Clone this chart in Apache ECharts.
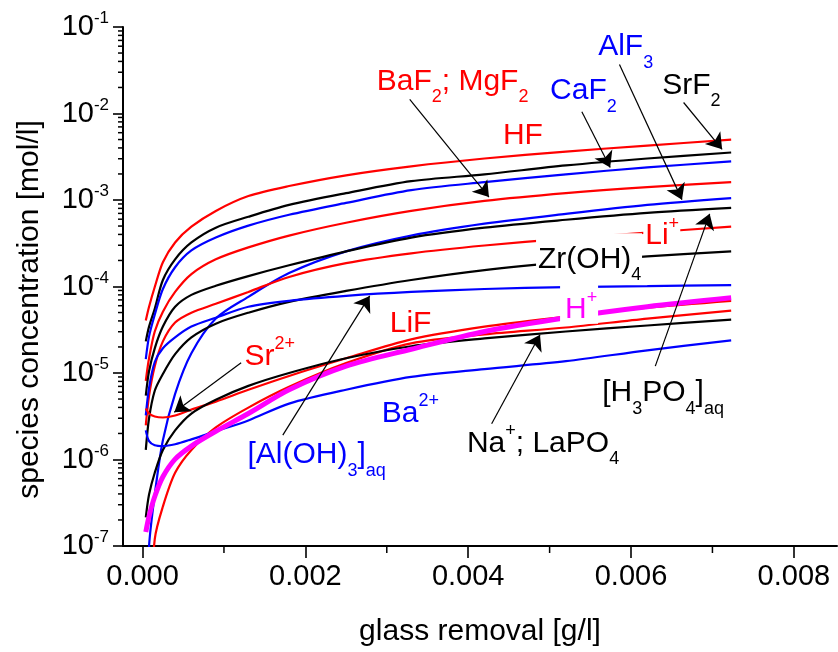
<!DOCTYPE html>
<html>
<head>
<meta charset="utf-8">
<script src="https://cdn.jsdelivr.net/npm/echarts@6.0.0/dist/echarts.min.js"></script>
<style>
html,body{margin:0;padding:0;background:#fff;}
#main{width:838px;height:652px;}
</style>
</head>
<body>
<div id="main"></div>
<script>
// glass removal [g/l] where every curve is sampled
var xs = [0.00004, 0.00008, 0.00015, 0.00025, 0.0004, 0.0006, 0.0009, 0.0013, 0.0018, 0.0025, 0.0033, 0.0042, 0.0052, 0.0062, 0.00723];

// species concentration [mol/l]
var hf      = [4.04e-5, 5.83e-5, 9.86e-5, 1.91e-4, 3.23e-4, 4.91e-4, 7.48e-4, 1.11e-3, 1.45e-3, 1.93e-3, 2.45e-3, 3.02e-3, 3.63e-3, 4.26e-3, 4.98e-3];
var srF2    = [2.32e-5, 3.44e-5, 5.53e-5, 1.19e-4, 2.06e-4, 3.23e-4, 4.79e-4, 6.40e-4, 8.77e-4, 1.20e-3, 1.65e-3, 1.98e-3, 2.51e-3, 3.02e-3, 3.54e-3];
var caF2    = [1.45e-5, 2.65e-5, 4.72e-5, 9.35e-5, 1.67e-4, 2.61e-4, 3.68e-4, 5.05e-4, 6.75e-4, 9.25e-4, 1.30e-3, 1.61e-3, 1.98e-3, 2.38e-3, 2.79e-3];
var baF2    = [8.11e-6, 1.48e-5, 3.02e-5, 5.12e-5, 8.65e-5, 1.39e-4, 2.06e-4, 2.83e-4, 3.88e-4, 5.46e-4, 7.48e-4, 9.75e-4, 1.20e-3, 1.41e-3, 1.61e-3];
var alF3    = [1.0e-8, 1.0e-7, 3.93e-7, 1.67e-6, 5.75e-6, 1.69e-5, 4.26e-5, 7.59e-5, 1.43e-4, 2.55e-4, 3.88e-4, 5.32e-4, 6.92e-4, 8.77e-4, 1.05e-3];
var h3po4   = [5.46e-6, 1.05e-5, 1.93e-5, 3.44e-5, 5.83e-5, 8.00e-5, 1.02e-4, 1.32e-4, 1.76e-4, 2.55e-4, 3.68e-4, 4.79e-4, 5.91e-4, 7.10e-4, 8.11e-4];
var liIon   = [2.48e-6, 5.46e-6, 1.20e-5, 2.32e-5, 3.83e-5, 4.98e-5, 6.31e-5, 8.65e-5, 1.29e-4, 1.86e-4, 2.42e-4, 2.98e-4, 3.58e-4, 4.20e-4, 4.91e-4];
var zrOH4   = [1.29e-6, 3.00e-6, 6.23e-6, 9.75e-6, 1.65e-5, 2.58e-5, 3.72e-5, 4.98e-5, 6.65e-5, 8.89e-5, 1.19e-4, 1.55e-4, 1.91e-4, 2.23e-4, 2.55e-4];
var alOH3   = [3.23e-6, 6.74e-6, 1.34e-5, 1.93e-5, 2.58e-5, 3.44e-5, 4.36e-5, 5.83e-5, 6.83e-5, 7.79e-5, 8.65e-5, 9.35e-5, 9.86e-5, 1.01e-4, 1.04e-4];
var sr2     = [3.88e-6, 3.40e-6, 3.14e-6, 3.06e-6, 3.23e-6, 3.78e-6, 4.67e-6, 6.40e-6, 9.25e-6, 1.48e-5, 2.45e-5, 3.44e-5, 4.48e-5, 5.68e-5, 6.83e-5];
var liF     = [null, 1.0e-8, 1.20e-7, 2.86e-7, 7.02e-7, 1.29e-6, 2.35e-6, 3.98e-6, 6.92e-6, 1.30e-5, 2.20e-5, 2.79e-5, 3.36e-5, 4.26e-5, 5.25e-5];
var naLaPO4 = [2.14e-7, 3.93e-7, 7.02e-7, 1.29e-6, 2.17e-6, 3.40e-6, 4.91e-6, 7.10e-6, 1.00e-5, 1.48e-5, 2.04e-5, 2.51e-5, 3.02e-5, 3.54e-5, 4.14e-5];
var ba2     = [2.17e-6, 1.63e-6, 1.46e-6, 1.43e-6, 1.50e-6, 1.71e-6, 2.12e-6, 2.83e-6, 4.43e-6, 6.40e-6, 9.00e-6, 1.11e-5, 1.37e-5, 1.83e-5, 2.38e-5];
var hPlus   = [1.45e-7, 2.20e-7, 3.73e-7, 6.31e-7, 1.01e-6, 1.43e-6, 2.12e-6, 3.40e-6, 6.40e-6, 1.20e-5, 1.88e-5, 3.02e-5, 4.36e-5, 5.83e-5, 7.39e-5];

// ticks
var xMajor = [0, 0.002, 0.004, 0.006, 0.008];
var xMinor = [0.001, 0.003, 0.005, 0.007];
var yMajor = [1e-7, 1e-6, 1e-5, 1e-4, 1e-3, 1e-2, 1e-1];
var yMinor = [];
for (var e = -7; e < -1; e++) {
  for (var m = 2; m <= 9; m++) yMinor.push(m * Math.pow(10, e));
}

var RED = '#ff0000', BLUE = '#0000ff', BLACK = '#000000', MAGENTA = '#ff00ff';
var FONT = '"Liberation Sans", Arial, Helvetica, sans-serif';

// labels on the plot, placed in data coordinates
var labels = [
  {text: 'BaF{sub|2}; MgF{sub|2}', color: RED, at: [0.002876, 2.35e-2]},
  {text: 'HF', color: RED, at: [0.004427, 5.53e-3]},
  {text: 'CaF{sub|2}', color: BLUE, at: [0.005006, 1.81e-2]},
  {text: 'AlF{sub|3}', color: BLUE, at: [0.005596, 5.91e-2]},
  {text: 'SrF{sub|2}', color: BLACK, at: [0.006384, 2.12e-2]},
  {text: 'Li{sup|+}', color: RED, at: [0.006175, 3.88e-4], box: [-2, -16, 37, 29]},
  {text: 'Zr(OH){sub|4}', color: BLACK, at: [0.004858, 2.06e-4], box: [-2, -26, 106, 48]},
  {text: 'H{sup|+}', color: MAGENTA, at: [0.005190, 5.39e-5], box: [-5, -26, 38, 40]},
  {text: 'LiF', color: RED, at: [0.003036, 3.73e-5]},
  {text: 'Sr{sup|2+}', color: RED, at: [0.001252, 1.56e-5]},
  {text: 'Ba{sup|2+}', color: BLUE, at: [0.002938, 3.40e-6]},
  {text: '[Al(OH){sub|3}]{sub|aq}', color: BLUE, at: [0.001289, 1.13e-6]},
  {text: 'Na{sup|+}; LaPO{sub|4}', color: BLACK, at: [0.003984, 1.54e-6]},
  {text: '[H{sub|3}PO{sub|4}]{sub|aq}', color: BLACK, at: [0.005646, 5.91e-6]}
];

// arrows: [tail, head]
var arrows = [
  [[0.003282, 1.46e-2], [0.004255, 1.08e-3]],
  [[0.005396, 1.05e-2], [0.005744, 2.38e-3]],
  [[0.005858, 3.68e-2], [0.006626, 1.01e-3]],
  [[0.006646, 1.34e-2], [0.007119, 3.86e-3]],
  [[0.001723, 1.91e-6], [0.002790, 7.79e-5]],
  [[0.001211, 1.31e-5], [0.000390, 3.52e-6]],
  [[0.004288, 2.59e-6], [0.004882, 2.77e-5]],
  [[0.006298, 1.20e-5], [0.006966, 6.92e-4]]
];

function curve(name, vals, color, width) {
  var pts = [];
  xs.forEach(function (x, i) { if (vals[i] != null) pts.push([x, vals[i]]); });
  return {
    name: name, type: 'line', data: pts,
    showSymbol: false, symbol: 'none',
    smooth: 0.3,
    lineStyle: {color: color, width: width || 2.2},
    itemStyle: {color: color},
    clip: true, silent: true
  };
}

var xMin = -0.00024, xMax = 0.00853;

// minor tick marks of both axes, drawn through the axis scales
function minorTicks(values, dir) {
  return {
    type: 'custom', silent: true, clip: false, z: 1,
    data: values.map(function (v) { return dir === 'y' ? [xMin, v] : [v, 1e-7]; }),
    renderItem: function (params, api) {
      var p = api.coord([api.value(0), api.value(1)]);
      var shape = dir === 'y'
        ? {x1: p[0] - 5, y1: p[1], x2: p[0] + 1, y2: p[1]}
        : {x1: p[0], y1: p[1] - 1, x2: p[0], y2: p[1] + 7};
      return {type: 'line', shape: shape, style: {stroke: '#000', lineWidth: 1.5}};
    }
  };
}

var series = [
  curve('HF', hf, RED),
  curve('SrF2', srF2, BLACK),
  curve('CaF2', caF2, BLUE),
  curve('BaF2; MgF2', baF2, RED),
  curve('AlF3', alF3, BLUE),
  curve('[H3PO4]aq', h3po4, BLACK),
  curve('Li+', liIon, RED),
  curve('Zr(OH)4', zrOH4, BLACK),
  curve('[Al(OH)3]aq', alOH3, BLUE),
  curve('Sr2+', sr2, RED),
  curve('LiF', liF, RED),
  curve('Na+; LaPO4', naLaPO4, BLACK),
  curve('Ba2+', ba2, BLUE),
  curve('H+', hPlus, MAGENTA, 5),
  minorTicks(yMinor, 'y'),
  minorTicks(xMinor, 'x')
];
series.push({
  name: 'arrows', type: 'line', data: [], silent: true,
  markLine: {
    silent: true, animation: false,
    symbol: ['none', 'arrow'], symbolSize: 15,
    lineStyle: {color: BLACK, width: 1.2, type: 'solid'},
    label: {show: false},
    emphasis: {disabled: true},
    data: arrows.map(function (a) { return [{coord: a[0]}, {coord: a[1]}]; })
  }
});

var axisFont = {fontSize: 29, color: '#000', fontFamily: FONT};

var option = {
  animation: false,
  backgroundColor: '#fff',
  grid: {left: 123, right: 1, top: 27, bottom: 100},
  xAxis: {
    type: 'value', min: xMin, max: xMax,
    axisLine: {onZero: false, lineStyle: {color: '#000', width: 2}},
    axisTick: {customValues: xMajor, length: 12, lineStyle: {color: '#000', width: 1.6}},
    axisLabel: Object.assign({customValues: xMajor, margin: 16,
      formatter: function (v) { return v.toFixed(3); }}, axisFont),
    splitLine: {show: false},
    name: 'glass removal [g/l]', nameLocation: 'middle', nameGap: 71,
    nameTextStyle: {fontSize: 30, color: '#000', fontFamily: FONT}
  },
  yAxis: {
    type: 'log', logBase: 10, min: 1e-7, max: 1e-1,
    axisLine: {show: true, onZero: false, lineStyle: {color: '#000', width: 2}},
    axisTick: {customValues: yMajor, length: 10, lineStyle: {color: '#000', width: 1.6}},
    axisLabel: {
      customValues: yMajor, margin: 14,
      formatter: function (v) { return '{a|10}{b|' + Math.round(Math.log10(v)) + '}'; },
      rich: {
        a: {fontSize: 29, lineHeight: 40, color: '#000', fontFamily: FONT},
        b: {fontSize: 17, lineHeight: 17, verticalAlign: 'top', padding: [3, 0, 0, 0], color: '#000', fontFamily: FONT}
      }
    },
    splitLine: {show: false},
    name: 'species concentration [mol/l]', nameLocation: 'middle', nameGap: 78,
    nameTextStyle: {fontSize: 30, color: '#000', fontFamily: FONT, padding: [0, 46, 0, 0]}
  },
  series: series
};

var chart = echarts.init(document.getElementById('main'), null, {renderer: 'canvas'});
chart.setOption(option);

var rich = {
  sub: {fontSize: 18, lineHeight: 18, verticalAlign: 'bottom', fontFamily: FONT},
  sup: {fontSize: 18, lineHeight: 18, verticalAlign: 'top', padding: [4, 0, 0, 0], fontFamily: FONT}
};
var graphics = [];
labels.forEach(function (l) {
  var p = chart.convertToPixel({xAxisIndex: 0, yAxisIndex: 0}, l.at);
  if (l.box) {
    graphics.push({type: 'rect', z: 90, silent: true,
      shape: {x: p[0] + l.box[0], y: p[1] + l.box[1], width: l.box[2], height: l.box[3]},
      style: {fill: '#fff'}});
  }
  graphics.push({type: 'text', z: 100, silent: true, x: p[0], y: p[1],
    style: {text: l.text, rich: rich, fill: l.color, fontSize: 30, lineHeight: 50,
      fontFamily: FONT, align: 'left', verticalAlign: 'middle'}});
});
chart.setOption({graphic: graphics});
</script>
</body>
</html>
